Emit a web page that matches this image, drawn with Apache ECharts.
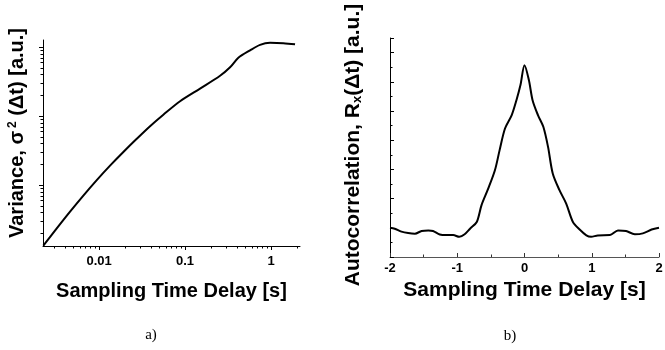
<!DOCTYPE html>
<html>
<head>
<meta charset="utf-8">
<script src="https://cdn.jsdelivr.net/npm/echarts@6/dist/echarts.min.js"></script>
<style>
  html, body { margin: 0; padding: 0; background: #fff; }
  #chart { width: 665px; height: 350px; }
</style>
</head>
<body>
<div id="chart"></div>
<script>
// panel a) variance vs sampling time delay (log-log)
var varDelay = [0.00225, 0.003222, 0.004601, 0.006568, 0.009404, 0.01342, 0.01917, 0.02744, 0.03917, 0.05593,
  0.08747, 0.1494, 0.2553, 0.3337, 0.4166, 0.57, 0.7448, 0.9737, 1.39, 1.901]
var varValue = [0.1319, 0.235, 0.4116, 0.7045, 1.182, 1.917, 3.028, 4.704, 7.164, 10.51,
  16.5, 25.2, 38.64, 51.3, 70.43, 90.49, 108.7, 116.2, 114.3, 110.5]

// panel b) autocorrelation vs sampling time delay
var acDelay = [-2, -1.93, -1.83, -1.73, -1.63, -1.53, -1.43, -1.36, -1.26, -1.16, -1.06, -0.97, -0.89, -0.81,
  -0.71, -0.64, -0.54, -0.44, -0.37, -0.29, -0.19, -0.12, -0.06, 0, 0.065, 0.12, 0.2, 0.28, 0.35, 0.42,
  0.52, 0.62, 0.72, 0.82, 0.92, 0.99, 1.09, 1.27, 1.39, 1.51, 1.64, 1.76, 1.89, 2.0]
var acValue = [1.0, 0.97, 0.87, 0.82, 0.8, 0.89, 0.91, 0.89, 0.77, 0.75, 0.75, 0.69, 0.78, 0.97,
  1.2, 1.77, 2.34, 2.97, 3.66, 4.4, 4.86, 5.37, 5.89, 6.57, 6.06, 5.37, 4.86, 4.46, 3.77, 2.86,
  2.29, 1.83, 1.2, 0.94, 0.74, 0.69, 0.74, 0.75, 0.91, 0.89, 0.78, 0.81, 0.94, 1.0]

// axis ranges
var aXRange = [0.00223, 2.17]
var aYRange = [0.1306, 127.7]
var aXDecades = [0.001, 0.01, 0.1, 1]
var aYDecades = [0.1, 1, 10, 100]
var aXMajor = [0.01, 0.1, 1]
var aYMajor = [1, 10, 100]
var bXRange = [-2, 2]
var bYRange = [0, 7.5]

var FONT = '"Liberation Sans", Arial, sans-serif'

function lg(v) { return Math.log(v) / Math.LN10 }

// log-spaced minor tick positions (in log10 units) inside a range
function minorTicks(decades, range) {
  var out = []
  decades.forEach(function (d) {
    for (var m = 2; m <= 9; m++) {
      var v = d * m
      if (v > range[0] && v < range[1]) out.push(lg(v))
    }
  })
  return out
}

var myChart = echarts.init(document.getElementById('chart'))

var helper = function (gridIndex, range, ticks, len, pos) {
  return {
    type: 'value', gridIndex: gridIndex, position: pos,
    min: lg(range[0]), max: lg(range[1]),
    axisLine: { show: false, onZero: false },
    axisLabel: { show: false },
    splitLine: { show: false },
    axisTick: { show: true, inside: false, length: len, customValues: ticks,
      lineStyle: { color: '#000', width: 1 } }
  }
}

function nameStyle(size) {
  return { fontFamily: FONT, fontWeight: 'bold', fontSize: size, color: '#000' }
}

var option = {
  animation: false,
  backgroundColor: '#fff',
  grid: [
    { left: 43, top: 40, width: 257, height: 206, outerBoundsMode: 'none' },
    { left: 390, top: 38, width: 269, height: 219, outerBoundsMode: 'none' }
  ],
  xAxis: [
    {
      type: 'log', gridIndex: 0, position: 'bottom',
      min: aXRange[0], max: aXRange[1],
      axisLine: { onZero: false, lineStyle: { color: '#000', width: 1 } },
      axisTick: { show: false },
      splitLine: { show: false },
      axisLabel: { showMinLabel: false, showMaxLabel: false, margin: 9,
        fontFamily: FONT, fontWeight: 'bold', fontSize: 13, color: '#000' },
      name: 'Sampling Time Delay [s]', nameLocation: 'middle', nameGap: 35,
      nameTextStyle: nameStyle(20)
    },
    helper(0, aXRange, aXMajor.map(lg), 4, 'bottom'),
    helper(0, aXRange, minorTicks(aXDecades, aXRange), 2.5, 'bottom'),
    {
      type: 'value', gridIndex: 1, position: 'bottom',
      min: bXRange[0], max: bXRange[1], interval: 1,
      axisLine: { onZero: false, lineStyle: { color: '#555', width: 1 } },
      axisTick: { inside: true, length: 4, lineStyle: { color: '#333' } },
      minorTick: { show: true, splitNumber: 2, length: 2.5, lineStyle: { color: '#333' } },
      splitLine: { show: false },
      axisLabel: { margin: 5, fontFamily: FONT, fontWeight: 'bold', fontSize: 13, color: '#000' },
      name: 'Sampling Time Delay [s]', nameLocation: 'middle', nameGap: 20,
      nameTextStyle: nameStyle(21)
    }
  ],
  yAxis: [
    {
      type: 'log', gridIndex: 0, position: 'left',
      min: aYRange[0], max: aYRange[1],
      axisLine: { onZero: false, lineStyle: { color: '#000', width: 1 } },
      axisTick: { show: false },
      splitLine: { show: false },
      axisLabel: { show: false },
      name: '{b|Variance, σ}{sup|2}{b| (Δt) [a.u.]}',
      nameLocation: 'middle', nameGap: 16,
      nameTextStyle: {
        padding: [0, 0, 0, 20],
        rich: {
          b: nameStyle(20),
          sup: { fontFamily: FONT, fontWeight: 'bold', fontSize: 12, color: '#000', verticalAlign: 'top', padding: [0, 0, 0, 3] }
        }
      }
    },
    helper(0, aYRange, aYMajor.map(lg), 4, 'left'),
    helper(0, aYRange, minorTicks(aYDecades, aYRange), 2.5, 'left'),
    {
      type: 'value', gridIndex: 1, position: 'left',
      min: bYRange[0], max: bYRange[1], interval: 1,
      axisLine: { onZero: false, lineStyle: { color: '#000', width: 1 } },
      axisTick: { inside: true, length: 4, lineStyle: { color: '#000' } },
      minorTick: { show: true, splitNumber: 2, length: 2.5, lineStyle: { color: '#000' } },
      splitLine: { show: false },
      axisLabel: { show: false },
      name: '{b|Autocorrelation, R}{sub|x}{b|(Δt) [a.u.]}',
      nameLocation: 'middle', nameGap: 26,
      nameTextStyle: {
        padding: [0, 0, 0, 5],
        rich: {
          b: nameStyle(21),
          sub: { fontFamily: FONT, fontWeight: 'bold', fontSize: 13, color: '#000', verticalAlign: 'bottom' }
        }
      }
    }
  ],
  graphic: [
    { type: 'text', style: { x: 151, y: 335, text: 'a)', textAlign: 'center', textVerticalAlign: 'middle',
      font: '15px "Liberation Serif", "Times New Roman", serif', fill: '#000' } },
    { type: 'text', style: { x: 510, y: 336, text: 'b)', textAlign: 'center', textVerticalAlign: 'middle',
      font: '15px "Liberation Serif", "Times New Roman", serif', fill: '#000' } }
  ],
  series: [
    {
      type: 'line', xAxisIndex: 0, yAxisIndex: 0,
      data: varDelay.map(function (t, i) { return [t, varValue[i]] }),
      smooth: 0.3, showSymbol: false,
      lineStyle: { color: '#000', width: 2 }
    },
    {
      type: 'line', xAxisIndex: 3, yAxisIndex: 3,
      data: acDelay.map(function (t, i) { return [t, acValue[i]] }),
      smooth: 0.3, showSymbol: false,
      lineStyle: { color: '#000', width: 2 }
    }
  ]
}
myChart.setOption(option)
</script>
</body>
</html>
